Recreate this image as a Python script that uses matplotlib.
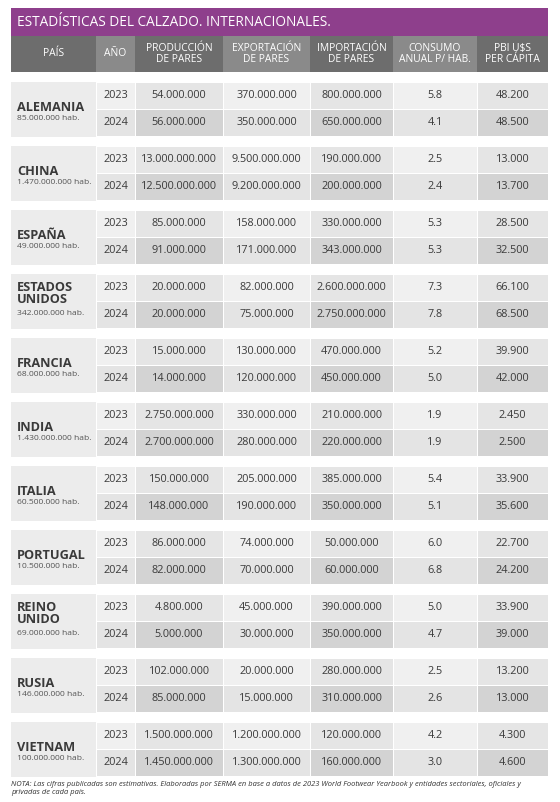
import matplotlib
matplotlib.use("Agg")
import matplotlib.pyplot as plt
from matplotlib.patches import Rectangle

plt.rcParams['font.family'] = ['Open Sans', 'DejaVu Sans']

title = "ESTADÍSTICAS DEL CALZADO. INTERNACIONALES."
headers = ["PAÍS", "AÑO", "PRODUCCIÓN\nDE PARES", "EXPORTACIÓN\nDE PARES", "IMPORTACIÓN\nDE PARES", "CONSUMO\nANUAL P/ HAB.", "PBI U$S\nPER CÁPITA"]
countries = ["ALEMANIA", "CHINA", "ESPAÑA", "ESTADOS\nUNIDOS", "FRANCIA", "INDIA", "ITALIA", "PORTUGAL", "REINO\nUNIDO", "RUSIA", "VIETNAM"]
population = ["85.000.000 hab.", "1.470.000.000 hab.", "49.000.000 hab.", "342.000.000 hab.", "68.000.000 hab.", "1.430.000.000 hab.", "60.500.000 hab.", "10.500.000 hab.", "69.000.000 hab.", "146.000.000 hab.", "100.000.000 hab."]
years = ["2023", "2024"]
produccion = [["54.000.000", "56.000.000"], ["13.000.000.000", "12.500.000.000"], ["85.000.000", "91.000.000"], ["20.000.000", "20.000.000"], ["15.000.000", "14.000.000"], ["2.750.000.000", "2.700.000.000"], ["150.000.000", "148.000.000"], ["86.000.000", "82.000.000"], ["4.800.000", "5.000.000"], ["102.000.000", "85.000.000"], ["1.500.000.000", "1.450.000.000"]]
exportacion = [["370.000.000", "350.000.000"], ["9.500.000.000", "9.200.000.000"], ["158.000.000", "171.000.000"], ["82.000.000", "75.000.000"], ["130.000.000", "120.000.000"], ["330.000.000", "280.000.000"], ["205.000.000", "190.000.000"], ["74.000.000", "70.000.000"], ["45.000.000", "30.000.000"], ["20.000.000", "15.000.000"], ["1.200.000.000", "1.300.000.000"]]
importacion = [["800.000.000", "650.000.000"], ["190.000.000", "200.000.000"], ["330.000.000", "343.000.000"], ["2.600.000.000", "2.750.000.000"], ["470.000.000", "450.000.000"], ["210.000.000", "220.000.000"], ["385.000.000", "350.000.000"], ["50.000.000", "60.000.000"], ["390.000.000", "350.000.000"], ["280.000.000", "310.000.000"], ["120.000.000", "160.000.000"]]
consumo = [["5.8", "4.1"], ["2.5", "2.4"], ["5.3", "5.3"], ["7.3", "7.8"], ["5.2", "5.0"], ["1.9", "1.9"], ["5.4", "5.1"], ["6.0", "6.8"], ["5.0", "4.7"], ["2.5", "2.6"], ["4.2", "3.0"]]
pbi = [["48.200", "48.500"], ["13.000", "13.700"], ["28.500", "32.500"], ["66.100", "68.500"], ["39.900", "42.000"], ["2.450", "2.500"], ["33.900", "35.600"], ["22.700", "24.200"], ["33.900", "39.000"], ["13.200", "13.000"], ["4.300", "4.600"]]
note = ("NOTA: Las cifras publicadas son estimativas. Elaboradas por SERMA en base a datos de 2023 World Footwear Yearbook y entidades sectoriales, oficiales y\n"
        "privadas de cada país.")

W, H = 560, 802
fig = plt.figure(figsize=(W/100, H/100), dpi=100)
ax = fig.add_axes([0, 0, 1, 1])
ax.set_xlim(0, W); ax.set_ylim(H, 0); ax.axis('off')

cols = [11, 96, 135, 223, 310, 393, 477, 548]
def rect(x0, y0, x1, y1, c):
    ax.add_patch(Rectangle((x0, y0), x1-x0, y1-y0, facecolor=c, edgecolor='none'))

rect(11, 8, 548, 36, '#8e3f8c')
ax.text(17, 22, title, color='white', fontsize=9.8, va='center', ha='left')
for i, h in enumerate(headers):
    c = '#6d6d6d' if i % 2 == 0 else '#8a8a8a'
    rect(cols[i], 36, cols[i+1], 72, c)
    ax.text((cols[i]+cols[i+1])/2, 54, h, color='white', fontsize=7.4, ha='center', va='center', linespacing=1.0)

data = [produccion, exportacion, importacion, consumo, pbi]
top0, period, rh = 82, 64, 27.3
for k, country in enumerate(countries):
    y0 = top0 + k*period
    rect(cols[0], y0, cols[1], y0+2*rh, '#ececec')
    nl = country.count('\n')
    ax.text(17, y0+rh - 2 - nl*6, country, fontsize=9.2, fontweight='bold', color='#3a3a3a', ha='left', va='center', linespacing=0.95)
    ax.text(17, y0+rh + 9 + nl*3, population[k], fontsize=6.1, color='#555555', ha='left', va='center')
    for r in range(2):
        ys = y0 + r*rh
        for j in range(1, 7):
            if r == 0:
                c = '#f0f0f0' if j % 2 == 1 else '#e5e5e5'
            else:
                c = '#e4e4e4' if j % 2 == 1 else '#d3d3d3'
            rect(cols[j]+0.5, ys+0.5, cols[j+1]-0.5, ys+rh-0.5, c)
        cy = ys + rh/2
        ax.text((cols[1]+cols[2])/2, cy, years[r], fontsize=7.8, color='#3a3a3a', ha='center', va='center')
        for j, d in enumerate(data):
            ax.text((cols[j+2]+cols[j+3])/2, cy, d[k][r], fontsize=7.8, color='#3a3a3a', ha='center', va='center')

ax.text(11, 781, note, fontsize=5.4, style='italic', color='#333333', ha='left', va='top', linespacing=1.3)
fig.savefig('out.png', dpi=100)
